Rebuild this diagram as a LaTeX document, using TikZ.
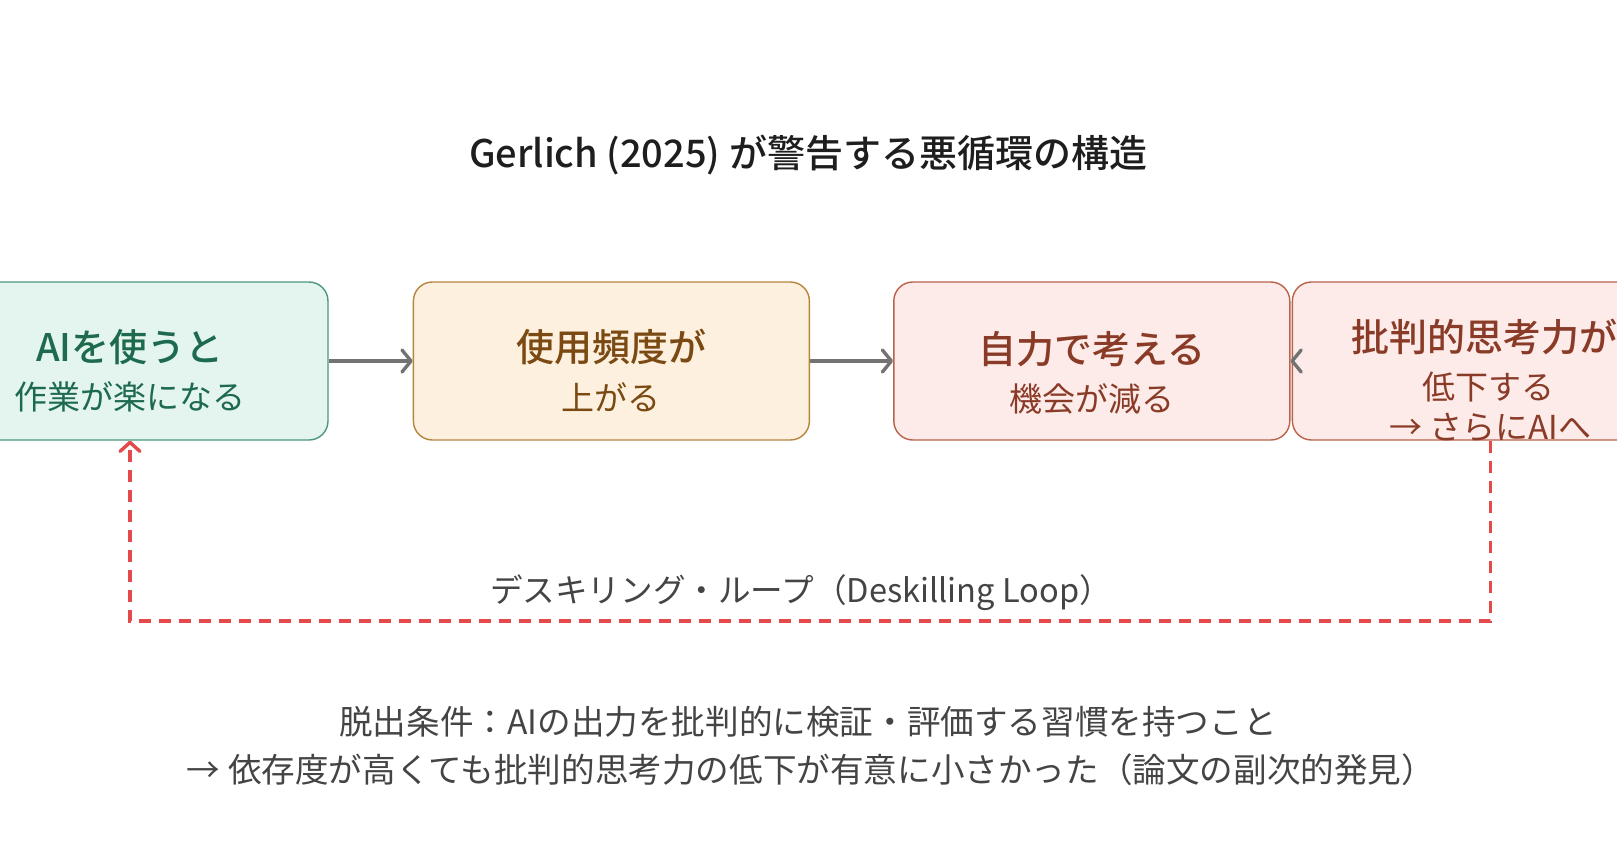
\documentclass[tikz,border=0pt]{standalone}
\usepackage{fontspec}
\setmainfont{Noto Sans CJK JP}[BoldFont={Noto Sans CJK JP Medium}]
\usetikzlibrary{arrows.meta,positioning,calc}

\definecolor{mintfill}{HTML}{E3F5EE}
\definecolor{mintline}{HTML}{4E977F}
\definecolor{mintink}{HTML}{1E6A4F}
\definecolor{tanfill}{HTML}{FDF0DF}
\definecolor{tanline}{HTML}{B7843F}
\definecolor{tanink}{HTML}{7A4A12}
\definecolor{rosefill}{HTML}{FCEBE8}
\definecolor{roseline}{HTML}{BA624C}
\definecolor{roseink}{HTML}{8A3B27}
\definecolor{flowgray}{HTML}{737373}
\definecolor{loopred}{HTML}{E4494B}
\definecolor{titleink}{HTML}{1E1E1E}
\definecolor{noteink}{HTML}{444444}

\tikzset{
  box/.style={draw, rounded corners=9.5pt, line width=0.7pt,
    minimum width=198pt, minimum height=79pt, inner sep=0pt},
  head/.style={font=\bfseries\fontsize{19}{23}\selectfont},
  sub/.style={font=\fontsize{16.5}{20}\selectfont},
  note/.style={font=\fontsize{16.8}{20}\selectfont, text=noteink},
  flow/.style={draw=flowgray, line width=1.7pt,
    -{Straight Barb[length=4.5pt,width=11pt,round]}},
  skillloop/.style={draw=loopred, line width=1.7pt, dash pattern=on 6pt off 4pt,
    -{Straight Barb[length=4.5pt,width=10pt,round]}}
}

\begin{document}
\begin{tikzpicture}[x=0.5pt,y=-0.5pt]
  \useasboundingbox (0,0) rectangle (1617,846);
  \clip (0,0) rectangle (1617,846);

  \node[font=\bfseries\fontsize{19}{23}\selectfont, text=titleink] (title) at (808,155)
    {Gerlich (2025) が警告する悪循環の構造};

  % the four steps
  \node[box, fill=mintfill, draw=mintline] (use) at (130,361) {};
  \node[box, fill=tanfill, draw=tanline, right=42pt of use] (freq) {};
  \node[box, fill=rosefill, draw=roseline, right=41.5pt of freq] (think) {};
  \node[box, fill=rosefill, draw=roseline, right=0.6pt of think] (crit) {};

  \node[head, text=mintink] (use-head) at ($(use.center)+(0,-14)$) {AIを使うと};
  \node[sub, text=mintink] (use-sub) at ($(use.center)+(0,36)$) {作業が楽になる};
  \node[head, text=tanink] (freq-head) at ($(freq.center)+(0,-14)$) {使用頻度が};
  \node[sub, text=tanink] (freq-sub) at ($(freq.center)+(0,36)$) {上がる};
  \node[head, text=roseink] (think-head) at ($(think.center)+(0,-12)$) {自力で考える};
  \node[sub, text=roseink] (think-sub) at ($(think.center)+(0,38)$) {機会が減る};
  \node[head, text=roseink] (crit-head) at ($(crit.center)+(-6,-24)$) {批判的思考力が};
  \node[sub, text=roseink] (crit-sub) at ($(crit.center)+(-2,26)$) {低下する};
  \node[sub, text=roseink] (crit-more) at ($(crit.center)+(0,66)$) {→ さらにAIへ};

  \draw[flow] (use.east) -- (freq.west);
  \draw[flow] (freq.east) -- (think.west);
  \draw[flow] (crit.west) -- (think.east);

  % loop back
  \coordinate (loopbase) at (808,621);
  \draw[skillloop] (crit.south) -- (crit.south |- loopbase) -| (use.south);
  \node[font=\fontsize{16.3}{20}\selectfont, text=noteink] (looplabel) at (801,593)
    {デスキリング・ループ（Deskilling Loop）};

  \node[note] (escape) at (808,722) {脱出条件：AIの出力を批判的に検証・評価する習慣を持つこと};
  \node[note] (finding) at (811,770)
    {→ 依存度が高くても批判的思考力の低下が有意に小さかった（論文の副次的発見）};
\end{tikzpicture}
\end{document}
